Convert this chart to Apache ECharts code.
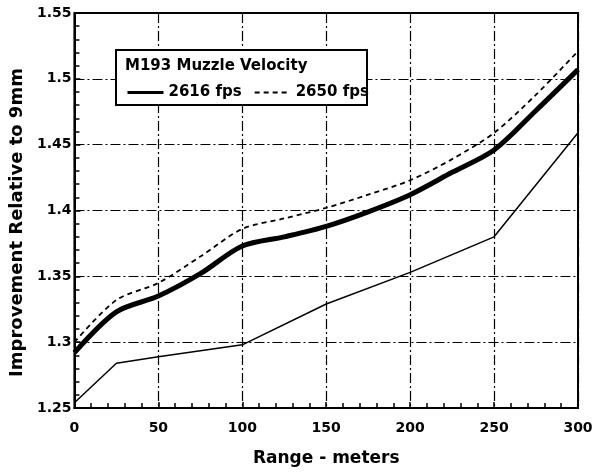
<!DOCTYPE html>
<html>
<head>
<meta charset="utf-8">
<script src="https://cdn.jsdelivr.net/npm/echarts@6/dist/echarts.min.js"></script>
<style>
html,body{margin:0;padding:0;background:#fff;}
#chart{width:598px;height:472px;}
</style>
</head>
<body>
<div id="chart"></div>
<script>
// Range (meters)
const ranges = [0, 25, 50, 75, 100, 125, 150, 175, 200, 225, 250, 275, 300];
// 2616 fps (thick solid)
const v2616 = [1.292, 1.323, 1.335, 1.352, 1.373, 1.380, 1.388, 1.399, 1.412, 1.429, 1.446, 1.476, 1.507];
// 2650 fps (dashed)
const v2650 = [1.300, 1.332, 1.345, 1.365, 1.386, 1.394, 1.402, 1.412, 1.423, 1.439, 1.459, 1.488, 1.521];
// thin solid line
const thinRanges = [0, 25, 50, 100, 150, 200, 250, 300];
const thinVals = [1.254, 1.284, 1.289, 1.298, 1.329, 1.353, 1.380, 1.459];

const legendTitle = 'M193 Muzzle Velocity';
const xTitle = 'Range - meters';
const yTitle = 'Improvement Relative to 9mm';

const FONT = 'DejaVu Sans';
const pair = (xs, ys) => xs.map((x, i) => [x, ys[i]]);
const gridDash = { color: '#000', width: 1.2, type: [10, 3, 2, 3] };

const chart = echarts.init(document.getElementById('chart'), null, { renderer: 'canvas' });
chart.setOption({
  animation: false,
  backgroundColor: '#fff',
  grid: { left: 72.5, right: 20, top: 13, bottom: 64, show: true, borderColor: '#000', borderWidth: 2 },
  title: {
    text: legendTitle, left: 120, top: 54, z: 7,
    textStyle: { fontFamily: FONT, fontWeight: 'bold', fontSize: 15, color: '#000' }
  },
  legend: {
    left: 121, top: 80, z: 7,
    itemWidth: 36, itemHeight: 14, itemGap: 12,
    itemStyle: { opacity: 0 },
    textStyle: { fontFamily: FONT, fontWeight: 'bold', fontSize: 15, color: '#000' },
    data: [
      { name: '2616 fps', lineStyle: { width: 3 } },
      { name: '2650 fps', lineStyle: { width: 2 } }
    ]
  },
  graphic: [{
    type: 'rect', z: 6,
    shape: { x: 116, y: 50, width: 251, height: 55 },
    style: { fill: '#fff', stroke: '#000', lineWidth: 2 }
  }],
  xAxis: {
    type: 'value', min: 0, max: 300, interval: 50,
    name: xTitle, nameLocation: 'middle', nameGap: 42,
    nameTextStyle: { fontFamily: FONT, fontWeight: 'bold', fontSize: 17, color: '#000' },
    axisLine: { lineStyle: { color: '#000', width: 2 } },
    axisTick: { inside: true, length: 6, lineStyle: { color: '#000', width: 1.5 } },
    minorTick: { show: true, splitNumber: 5, length: 5, lineStyle: { color: '#000', width: 1.5 } },
    axisLabel: { fontFamily: FONT, fontWeight: 'bold', fontSize: 14, color: '#000', margin: 13 },
    splitLine: { show: true, lineStyle: gridDash }
  },
  yAxis: {
    type: 'value', min: 1.25, max: 1.55, interval: 0.05,
    name: yTitle, nameLocation: 'middle', nameGap: 42,
    nameTextStyle: { fontFamily: FONT, fontWeight: 'bold', fontSize: 18, color: '#000', padding: [0, 24, 0, 0] },
    axisLine: { show: true, lineStyle: { color: '#000', width: 2 } },
    axisTick: { show: true, inside: true, length: 6, lineStyle: { color: '#000', width: 1.5 } },
    minorTick: { show: true, splitNumber: 5, length: 5, lineStyle: { color: '#000', width: 1.5 } },
    axisLabel: { fontFamily: FONT, fontWeight: 'bold', fontSize: 14, color: '#000', margin: 3,
      formatter: v => String(parseFloat(v.toFixed(2))) },
    splitLine: { show: true, lineStyle: gridDash }
  },
  series: [
    {
      name: 'thin', type: 'line', data: pair(thinRanges, thinVals), symbol: 'none',
      lineStyle: { color: '#000', width: 1.5 }, itemStyle: { color: '#000' }, z: 3
    },
    {
      name: '2616 fps', type: 'line', data: pair(ranges, v2616), symbol: 'none', smooth: 0.3,
      lineStyle: { color: '#000', width: 5 }, itemStyle: { color: '#000' }, z: 3
    },
    {
      name: '2650 fps', type: 'line', data: pair(ranges, v2650), symbol: 'none', smooth: 0.3,
      lineStyle: { color: '#000', width: 1.8, type: [5, 4] }, itemStyle: { color: '#000' }, z: 3
    }
  ]
});
</script>
</body>
</html>
